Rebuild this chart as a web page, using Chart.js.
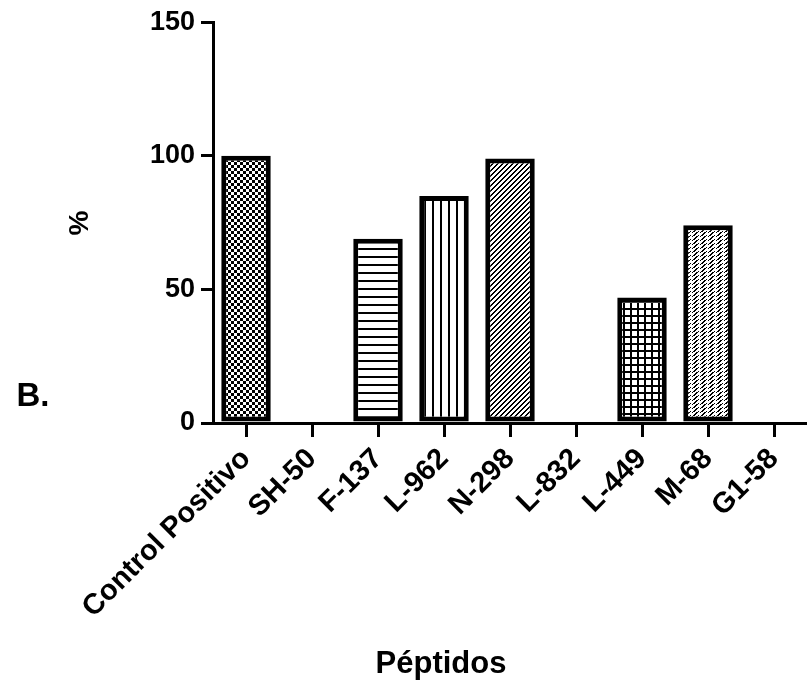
<!DOCTYPE html>
<html>
<head>
<meta charset="utf-8">
<script src="https://cdn.jsdelivr.net/npm/chart.js@4/dist/chart.umd.min.js"></script>
<style>
  html, body { margin: 0; padding: 0; background: #fff; }
  #wrap { width: 807px; height: 681px; position: relative; }
</style>
</head>
<body>
<div id="wrap"><canvas id="myChart" width="807" height="681"></canvas></div>
<script>
// data
const peptidos = ['Control Positivo', 'SH-50', 'F-137', 'L-962', 'N-298', 'L-832', 'L-449', 'M-68', 'G1-58'];
const porcentaje = [100, 0, 69, 85, 99, 0, 47, 74, 0];
const yTicks = [0, 50, 100, 150];

const FONT = "'Liberation Sans', Arial, sans-serif";

// little tiles for the bar fills
function makePattern(size, fn) {
  const c = document.createElement('canvas');
  c.width = size; c.height = size;
  const g = c.getContext('2d');
  g.fillStyle = '#fff';
  g.fillRect(0, 0, size, size);
  g.fillStyle = '#000';
  for (let x = 0; x < size; x++) {
    for (let y = 0; y < size; y++) {
      if (fn(x, y)) g.fillRect(x, y, 1, 1);
    }
  }
  return document.createElement('canvas').getContext('2d').createPattern(c, 'repeat');
}

const fills = [
  makePattern(6, (x, y) => (x < 3) === (y < 3)),                 // checker
  '#fff',
  makePattern(8, (x, y) => y < 2),                                // horizontal lines
  makePattern(8, (x, y) => x < 2),                                // vertical lines
  makePattern(5, (x, y) => (x + y) % 5 < 2),                      // diagonal
  '#fff',
  makePattern(7, (x, y) => x < 2 || y < 2),                       // grid
  makePattern(8, (x, y) => (x + y) % 4 < 2 && (x + 2 * y) % 8 < 5), // dotted diagonal
  '#fff'
];

const textPlugin = {
  id: 'texts',
  afterDraw(chart) {
    const ctx = chart.ctx;
    ctx.save();
    ctx.fillStyle = '#000';
    ctx.textAlign = 'center';
    ctx.textBaseline = 'middle';
    ctx.font = 'bold 33px ' + FONT;
    ctx.fillText('B.', 33, 397);
    ctx.font = 'bold 31px ' + FONT;
    ctx.fillText('Péptidos', 441, 664);
    ctx.translate(80, 223);
    ctx.rotate(-Math.PI / 2);
    ctx.font = 'bold 28px ' + FONT;
    ctx.fillText('%', 0, 0);
    ctx.restore();
  }
};

let myChart;

function setup() {
  const ctx = document.getElementById('myChart').getContext('2d');
  myChart = new Chart(ctx, {
    type: 'bar',
    data: {
      labels: peptidos,
      datasets: [{
        label: '%',
        data: porcentaje,
        backgroundColor: fills,
        borderColor: '#000',
        borderWidth: 5,
        borderSkipped: false,
        categoryPercentage: 1,
        barPercentage: 0.75
      }]
    },
    options: {
      responsive: false,
      animation: false,
      layout: { padding: { top: 22, right: -4, left: 0, bottom: 0 } },
      plugins: { legend: { display: false }, tooltip: { enabled: false } },
      scales: {
        x: {
          grid: { display: true, offset: false, drawOnChartArea: false, drawTicks: true, tickLength: 14, lineWidth: 3, color: '#000' },
          border: { display: true, width: 3, color: '#000' },
          ticks: {
            color: '#000',
            font: { family: FONT, size: 29, weight: 'bold' },
            minRotation: 45, maxRotation: 45, padding: 5
          },
          afterFit(scale) {
            scale.height = 681 - 423;
            scale.paddingLeft = 0;
            scale.paddingRight = 0;
          }
        },
        y: {
          min: 0, max: 150,
          afterBuildTicks(scale) { scale.ticks = yTicks.map(v => ({ value: v })); },
          grid: { display: true, drawOnChartArea: false, drawTicks: true, tickLength: 12, lineWidth: 3, color: '#000' },
          border: { display: true, width: 3, color: '#000' },
          ticks: {
            color: '#000',
            font: { family: FONT, size: 27, weight: 'bold' },
            padding: 6
          },
          afterFit(scale) { scale.width = 213; }
        }
      }
    },
    plugins: [textPlugin]
  });
}

window.addEventListener('load', setup);
</script>
</body>
</html>
